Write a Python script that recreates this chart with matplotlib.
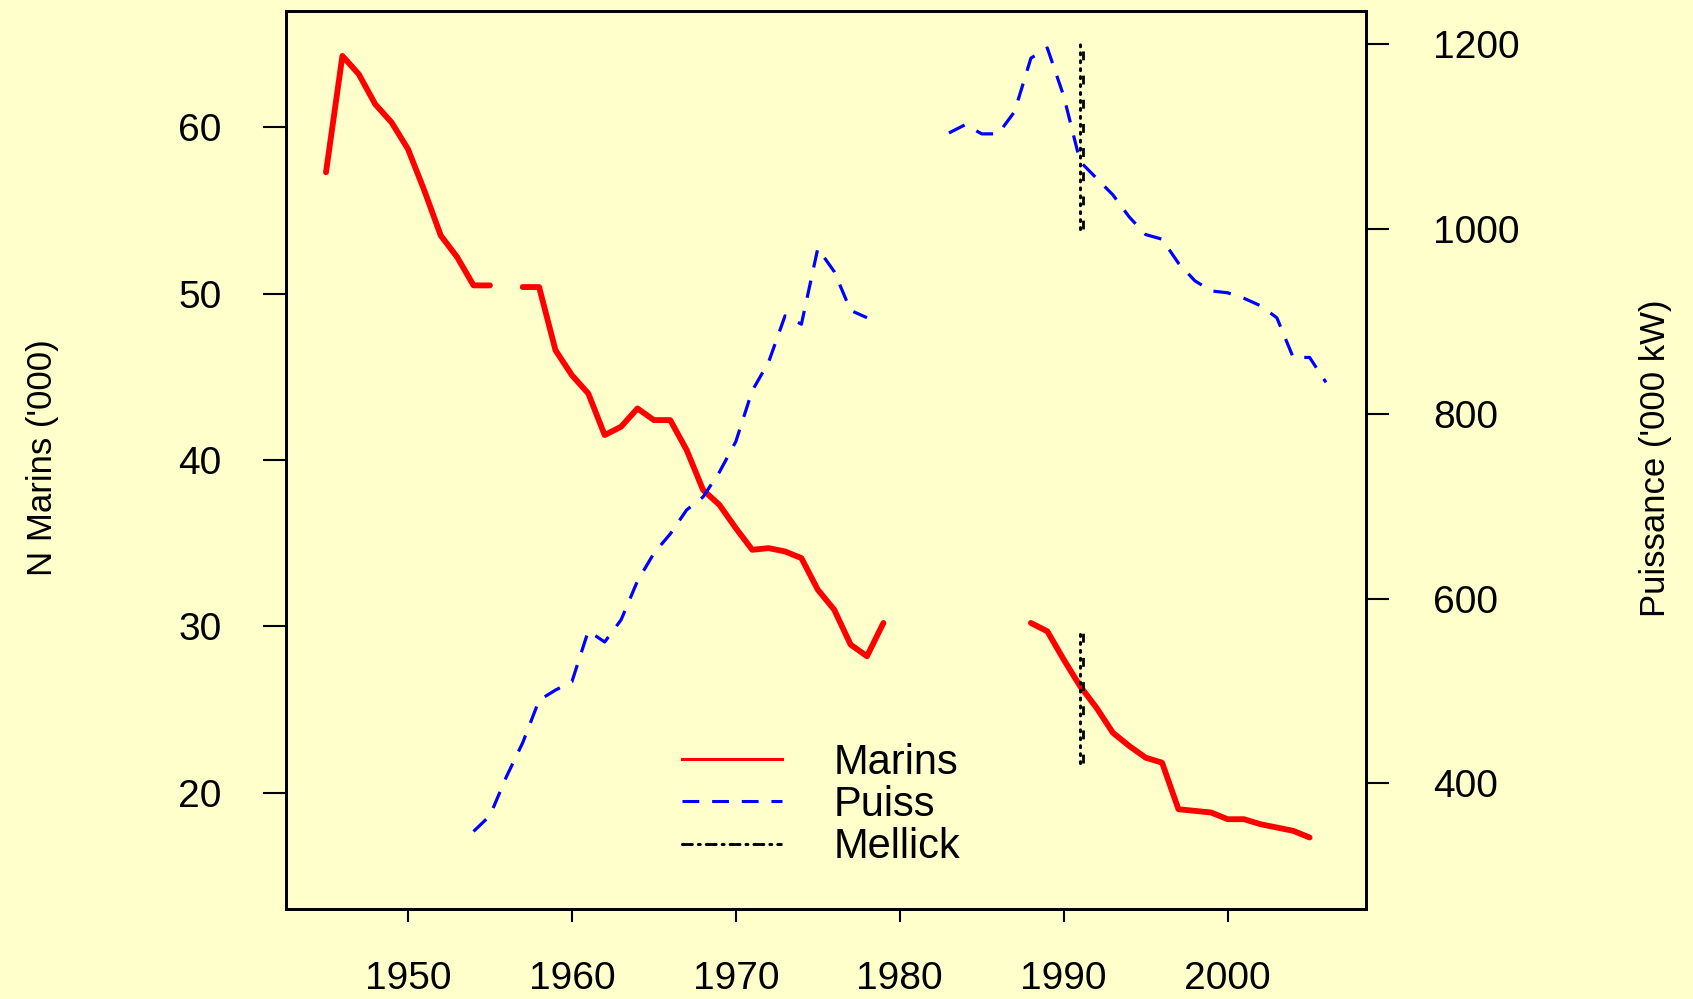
import numpy as np
import matplotlib
matplotlib.use("Agg")
import matplotlib.pyplot as plt
from matplotlib.lines import Line2D
from matplotlib.legend_handler import HandlerTuple

plt.rcParams['font.family'] = ['Liberation Sans', 'DejaVu Sans']

# data (None = no value that year)
years_marins = list(range(1945, 2006))
marins = [57.3, 64.3, 63.2, 61.4, 60.3, 58.7, 56.2, 53.5, 52.2, 50.5,
          50.5, None, 50.4, 50.4, 46.6, 45.1, 44.0, 41.5, 42.0, 43.1,
          42.4, 42.4, 40.6, 38.2, 37.3, 35.9, 34.6, 34.7, 34.5, 34.1,
          32.2, 31.0, 28.9, 28.2, 30.2, None, None, None, None, None,
          None, None, None, 30.2, 29.7, 28.0, 26.4, 25.1, 23.6, 22.8,
          22.1, 21.8, 19.0, 18.9, 18.8, 18.4, 18.4, 18.1, 17.9, 17.7,
          17.3]

years_puiss = list(range(1954, 2007))
puiss = [348, 365, 407, 444, 490, 501, 510, 565, 553, 577,
         619, 649, 670, 696, 710, 737, 770, 825, 856, 906,
         897, 979, 954, 912, 904, None, None, None, None, 1104,
         1113, 1103, 1103, 1127, 1185, 1196, 1144, 1073, 1055, 1037,
         1013, 994, 989, 963, 944, 933, 931, 925, 917, 904,
         861, 861, 834]

mellick_year = 1991
mellick_marins = [21.8, 29.8]     # segment on the left axis
mellick_puiss = [1000, 1200]      # segment on the right axis

xticks = [1950, 1960, 1970, 1980, 1990, 2000]
yticks_left = [20, 30, 40, 50, 60]
yticks_right = [400, 600, 800, 1000, 1200]

bg = '#FFFFCC'

marins = np.array([np.nan if v is None else v for v in marins])
puiss = np.array([np.nan if v is None else v for v in puiss])

W, H = 1693, 999
fig = plt.figure(figsize=(W / 100, H / 100), dpi=100, facecolor=bg)
ax = fig.add_axes([286 / W, 1 - 909 / H, 1080 / W, 898 / H])
ax.set_facecolor(bg)
ax2 = ax.twinx()

ax.set_xlim(1942.56, 2008.44)
ax.set_ylim(13, 67)
ax2.set_ylim(264, 1236)

ax.plot(years_marins, marins, color='red', lw=4.2,
        solid_capstyle='round', solid_joinstyle='round')
ax2.plot(years_puiss, puiss, color='blue', lw=2.3, ls=(0, (5.5, 4.2)))

dot_style = dict(color='black', lw=2.2, ls=(0, (0.6, 2.0)), dash_capstyle='round')
dash_style = dict(color='black', lw=2.0, ls=(0, (3.2, 5.5)))
ax.plot([mellick_year, mellick_year], mellick_marins, **dot_style)
ax.plot([mellick_year + 0.15, mellick_year + 0.15], mellick_marins, **dash_style)
ax2.plot([mellick_year, mellick_year], mellick_puiss, **dot_style)
ax2.plot([mellick_year + 0.15, mellick_year + 0.15], mellick_puiss, **dash_style)

for a in (ax, ax2):
    for s in a.spines.values():
        s.set_linewidth(2)
        s.set_color('black')

ax.set_xticks(xticks)
ax.set_yticks(yticks_left)
ax2.set_yticks(yticks_right)
ax.tick_params(axis='x', length=9.5, width=1.5, pad=28, labelsize=28)
ax.tick_params(axis='y', length=16.5, width=1.5, pad=30, labelsize=28)
ax2.tick_params(axis='y', length=16.5, width=1.5, pad=32, labelsize=28)

fig.text(43 / W, 1 - 458 / H, "N Marins ('000)", rotation=90,
         ha='center', va='center', fontsize=25)
fig.text(1655 / W, 1 - 458 / H, "Puissance ('000 kW)", rotation=90,
         ha='center', va='center', fontsize=25)

h1 = Line2D([], [], color='red', lw=2.2)
h2 = Line2D([], [], color='blue', lw=2.2, ls=(0, (5.5, 4.2)))
h3a = Line2D([], [], **dot_style)
h3b = Line2D([], [], **dash_style)
leg = ax.legend([h1, h2, (h3a, h3b)], ['Marins', 'Puiss', 'Mellick'],
                handler_map={tuple: HandlerTuple(ndivide=1, pad=0)},
                loc='center left', bbox_to_anchor=(682 / W, 1 - 805 / H),
                bbox_transform=fig.transFigure, frameon=False,
                fontsize=30, handlelength=2.4, handletextpad=1.25,
                labelspacing=0.05, borderpad=0, borderaxespad=0)

fig.savefig('out.png', dpi=100, facecolor=bg)
